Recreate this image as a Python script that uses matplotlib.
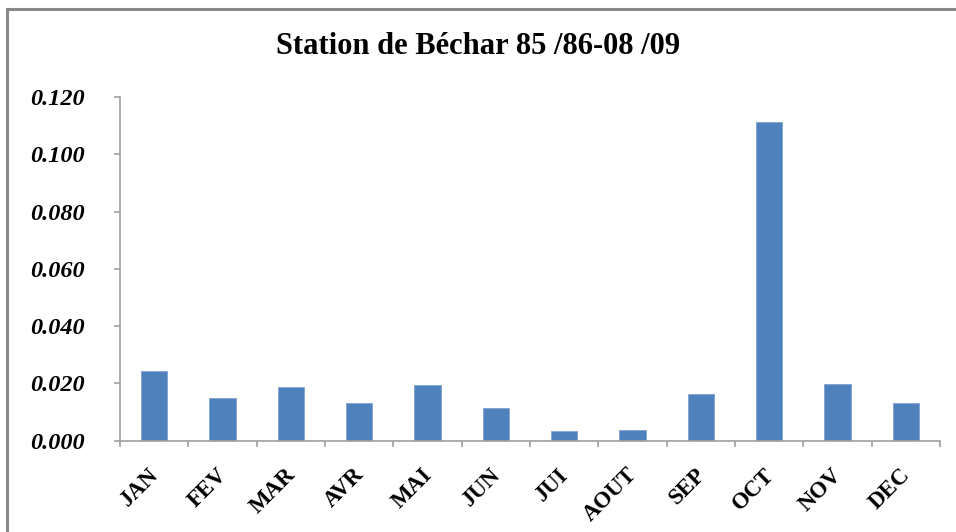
import matplotlib
matplotlib.use("Agg")
import matplotlib.pyplot as plt
import matplotlib.transforms as mtransforms
from matplotlib.patches import Rectangle
import numpy as np

months = ["JAN", "FEV", "MAR", "AVR", "MAI", "JUN", "JUI", "AOUT", "SEP", "OCT", "NOV", "DEC"]
values = [0.0243, 0.0148, 0.0186, 0.0132, 0.0194, 0.0113, 0.0034, 0.0038, 0.0162, 0.1114, 0.0198, 0.0132]
yticks = [0.000, 0.020, 0.040, 0.060, 0.080, 0.100, 0.120]
title = "Station de Béchar 85 /86-08 /09"

serif = ["Liberation Serif", "DejaVu Serif"]

fig = plt.figure(figsize=(9.56, 5.32), dpi=100)
fig.patch.set_facecolor("white")

# outer frame
fig.add_artist(Rectangle((7/956, -0.05), 1.1, 1 - 9/532 + 0.05, transform=fig.transFigure,
                         fill=False, edgecolor="#888888", linewidth=2.2))

ax = fig.add_axes([120/956, (532-440.7)/532, (940-120)/956, (440.7-97)/532])
x = np.arange(len(months))
ax.bar(x, values, width=0.39, color="#4F81BD", edgecolor="#7FA3D0", linewidth=0.6)

ax.set_xlim(-0.5, len(months) - 0.5)
ax.set_ylim(0, 0.12)
ax.set_yticks(yticks)
ax.set_yticklabels([f"{v:.3f}" for v in yticks], fontfamily=serif, fontweight="bold",
                   fontstyle="italic", fontsize=17.5)
ax.set_xticks(x)
ax.set_xticklabels(months, rotation=45, ha="right", rotation_mode="anchor",
                   fontfamily=serif, fontweight="bold", fontsize=16.5)
ax.tick_params(axis="x", length=0, pad=17)
offset = mtransforms.ScaledTranslation(-6/100, 0, fig.dpi_scale_trans)
for lab in ax.get_xticklabels():
    lab.set_transform(lab.get_transform() + offset)
ax.set_xticks(np.arange(-0.5, len(months) + 0.5, 1), minor=True)
ax.tick_params(axis="x", which="minor", length=4, color="#A0A0A0", width=1.2, direction="out")
ax.tick_params(axis="y", length=4, color="#A0A0A0", width=1.2, direction="out", pad=21)

for s in ["top", "right"]:
    ax.spines[s].set_visible(False)
for s in ["left", "bottom"]:
    ax.spines[s].set_color("#A0A0A0")
    ax.spines[s].set_linewidth(1.2)

fig.text(478/956, 1 - 47/532, title, ha="center", va="center", fontfamily=serif,
         fontweight="bold", fontsize=22)

fig.savefig("out.png", dpi=100)
